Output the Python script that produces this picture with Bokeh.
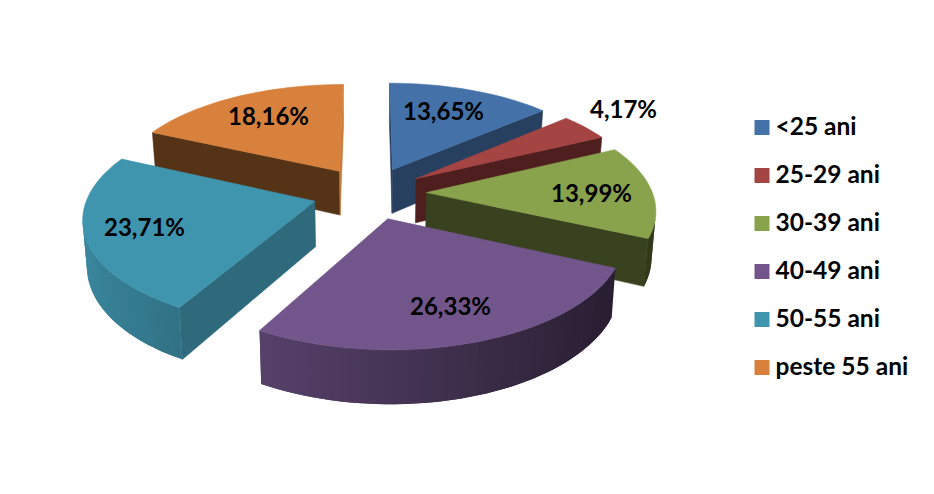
import math
from bokeh.plotting import figure
from bokeh.models import Range1d
from bokeh.core.properties import value
from bokeh.embed import file_html
from bokeh.resources import INLINE

# --- data
categories = ["<25 ani", "25-29 ani", "30-39 ani", "40-49 ani", "50-55 ani", "peste 55 ani"]
shares = [13.65, 4.17, 13.99, 26.33, 23.71, 18.16]
labels = ["13,65%", "4,17%", "13,99%", "26,33%", "23,71%", "18,16%"]

# --- style
top_colors = ["#4472A8", "#A44443", "#89A34C", "#72568B", "#4095AE", "#D8813C"]
start_wall = ["#27405F", "#4F1F1F", "#39421E", "#3A2D4C", "#2E6A7C", "#553317"]
end_wall = ["#27405F", "#4F1F1F", "#39421E", "#3A2D4C", "#2E6A7C", "#C9793A"]
label_xy = [(443, 109.5), (623, 107.5), (591, 191.5), (450, 304.5), (144, 225.5), (268, 114.5)]
paint_order = [0, 5, 1, 2, 4, 3]
FONT = "Lato"

# --- perspective model of the pie plane
CX, CY, RX, RY, PERSP, EXPLODE, DEPTH, SHRINK = 369.0, 192.4, 226.0, 104.6, 0.14, 0.252, 45.0, 0.985


def project(u, v):
    d = 1 - PERSP * v
    return CX + RX * u / d, CY + RY * v / d


def lower(u, v):
    x, y = project(u, v)
    return CX + (x - CX) * SHRINK, y + DEPTH / (1 - PERSP * v)


def shade(hex_color, f):
    r, g, b = (int(hex_color[i:i + 2], 16) for i in (1, 3, 5))
    return "#%02x%02x%02x" % (int(r * f), int(g * f), int(b * f))


p = figure(width=926, height=486, output_backend="svg", toolbar_location=None,
           x_range=Range1d(0, 926), y_range=Range1d(486, 0), min_border=0)
p.axis.visible = False
p.grid.visible = False
p.outline_line_color = None


def face(points, color, lw=0.6):
    xs, ys = zip(*points)
    p.patch(list(xs), list(ys), fill_color=color, line_color=color if lw else None,
            line_width=lw or 1)


total = sum(shares)
starts = []
acc = 0.0
for s in shares:
    starts.append(acc)
    acc += s

for i in paint_order:
    a0 = starts[i] / total * 2 * math.pi
    a1 = (starts[i] + shares[i]) / total * 2 * math.pi
    mid = (a0 + a1) / 2
    ou, ov = EXPLODE * math.sin(mid), -EXPLODE * math.cos(mid)
    n = max(6, int((a1 - a0) / math.radians(2)))
    angles = [a0 + (a1 - a0) * k / n for k in range(n + 1)]
    rim = [(ou + math.sin(a), ov - math.cos(a)) for a in angles]
    tip = (ou, ov)

    # radial walls that face the viewer
    if project(*rim[0])[0] < project(*tip)[0]:
        face([project(*tip), project(*rim[0]), lower(*rim[0]), lower(*tip)], start_wall[i])
    if project(*tip)[0] < project(*rim[-1])[0]:
        face([project(*rim[-1]), project(*tip), lower(*tip), lower(*rim[-1])], end_wall[i])

    # curved outer wall: bands overlap the next one so no seams show
    for k in range(n):
        q0, q1 = rim[k], rim[k + 1]
        if project(*q1)[0] < project(*q0)[0]:
            am = (angles[k] + angles[k + 1]) / 2
            f = min(0.93, max(0.36, 0.62 - 0.3 * math.sin(am)))
            q2 = rim[min(k + 2, n)]
            if project(*q2)[0] > project(*q1)[0]:
                q2 = q1
            face([project(*q0), project(*q1), project(*q2), lower(*q2), lower(*q1), lower(*q0)],
                 shade(top_colors[i], f), lw=0)

    # top face
    face([project(*tip)] + [project(*q) for q in rim], top_colors[i])

# value labels
p.text(x=[c[0] for c in label_xy], y=[c[1] for c in label_xy], text=labels,
       text_font=value(FONT), text_font_style="bold", text_font_size="24px",
       text_color="#000000", text_align="center", text_baseline="middle")

# legend
LEG_X, LEG_Y, LEG_STEP, LEG_BOX = 754, 127, 48, 15
ly = [LEG_Y + LEG_STEP * k for k in range(len(categories))]
p.quad(left=[LEG_X] * 6, right=[LEG_X + LEG_BOX] * 6,
       top=[y - LEG_BOX / 2 for y in ly], bottom=[y + LEG_BOX / 2 for y in ly],
       fill_color=top_colors, line_color=None)
p.text(x=[LEG_X + 21] * 6, y=[y - 2 for y in ly], text=categories, text_font=value(FONT),
       text_font_style="bold", text_font_size="24.5px", text_color="#000000",
       text_align="left", text_baseline="middle")

open("out.html", "w").write(file_html(p, INLINE))
